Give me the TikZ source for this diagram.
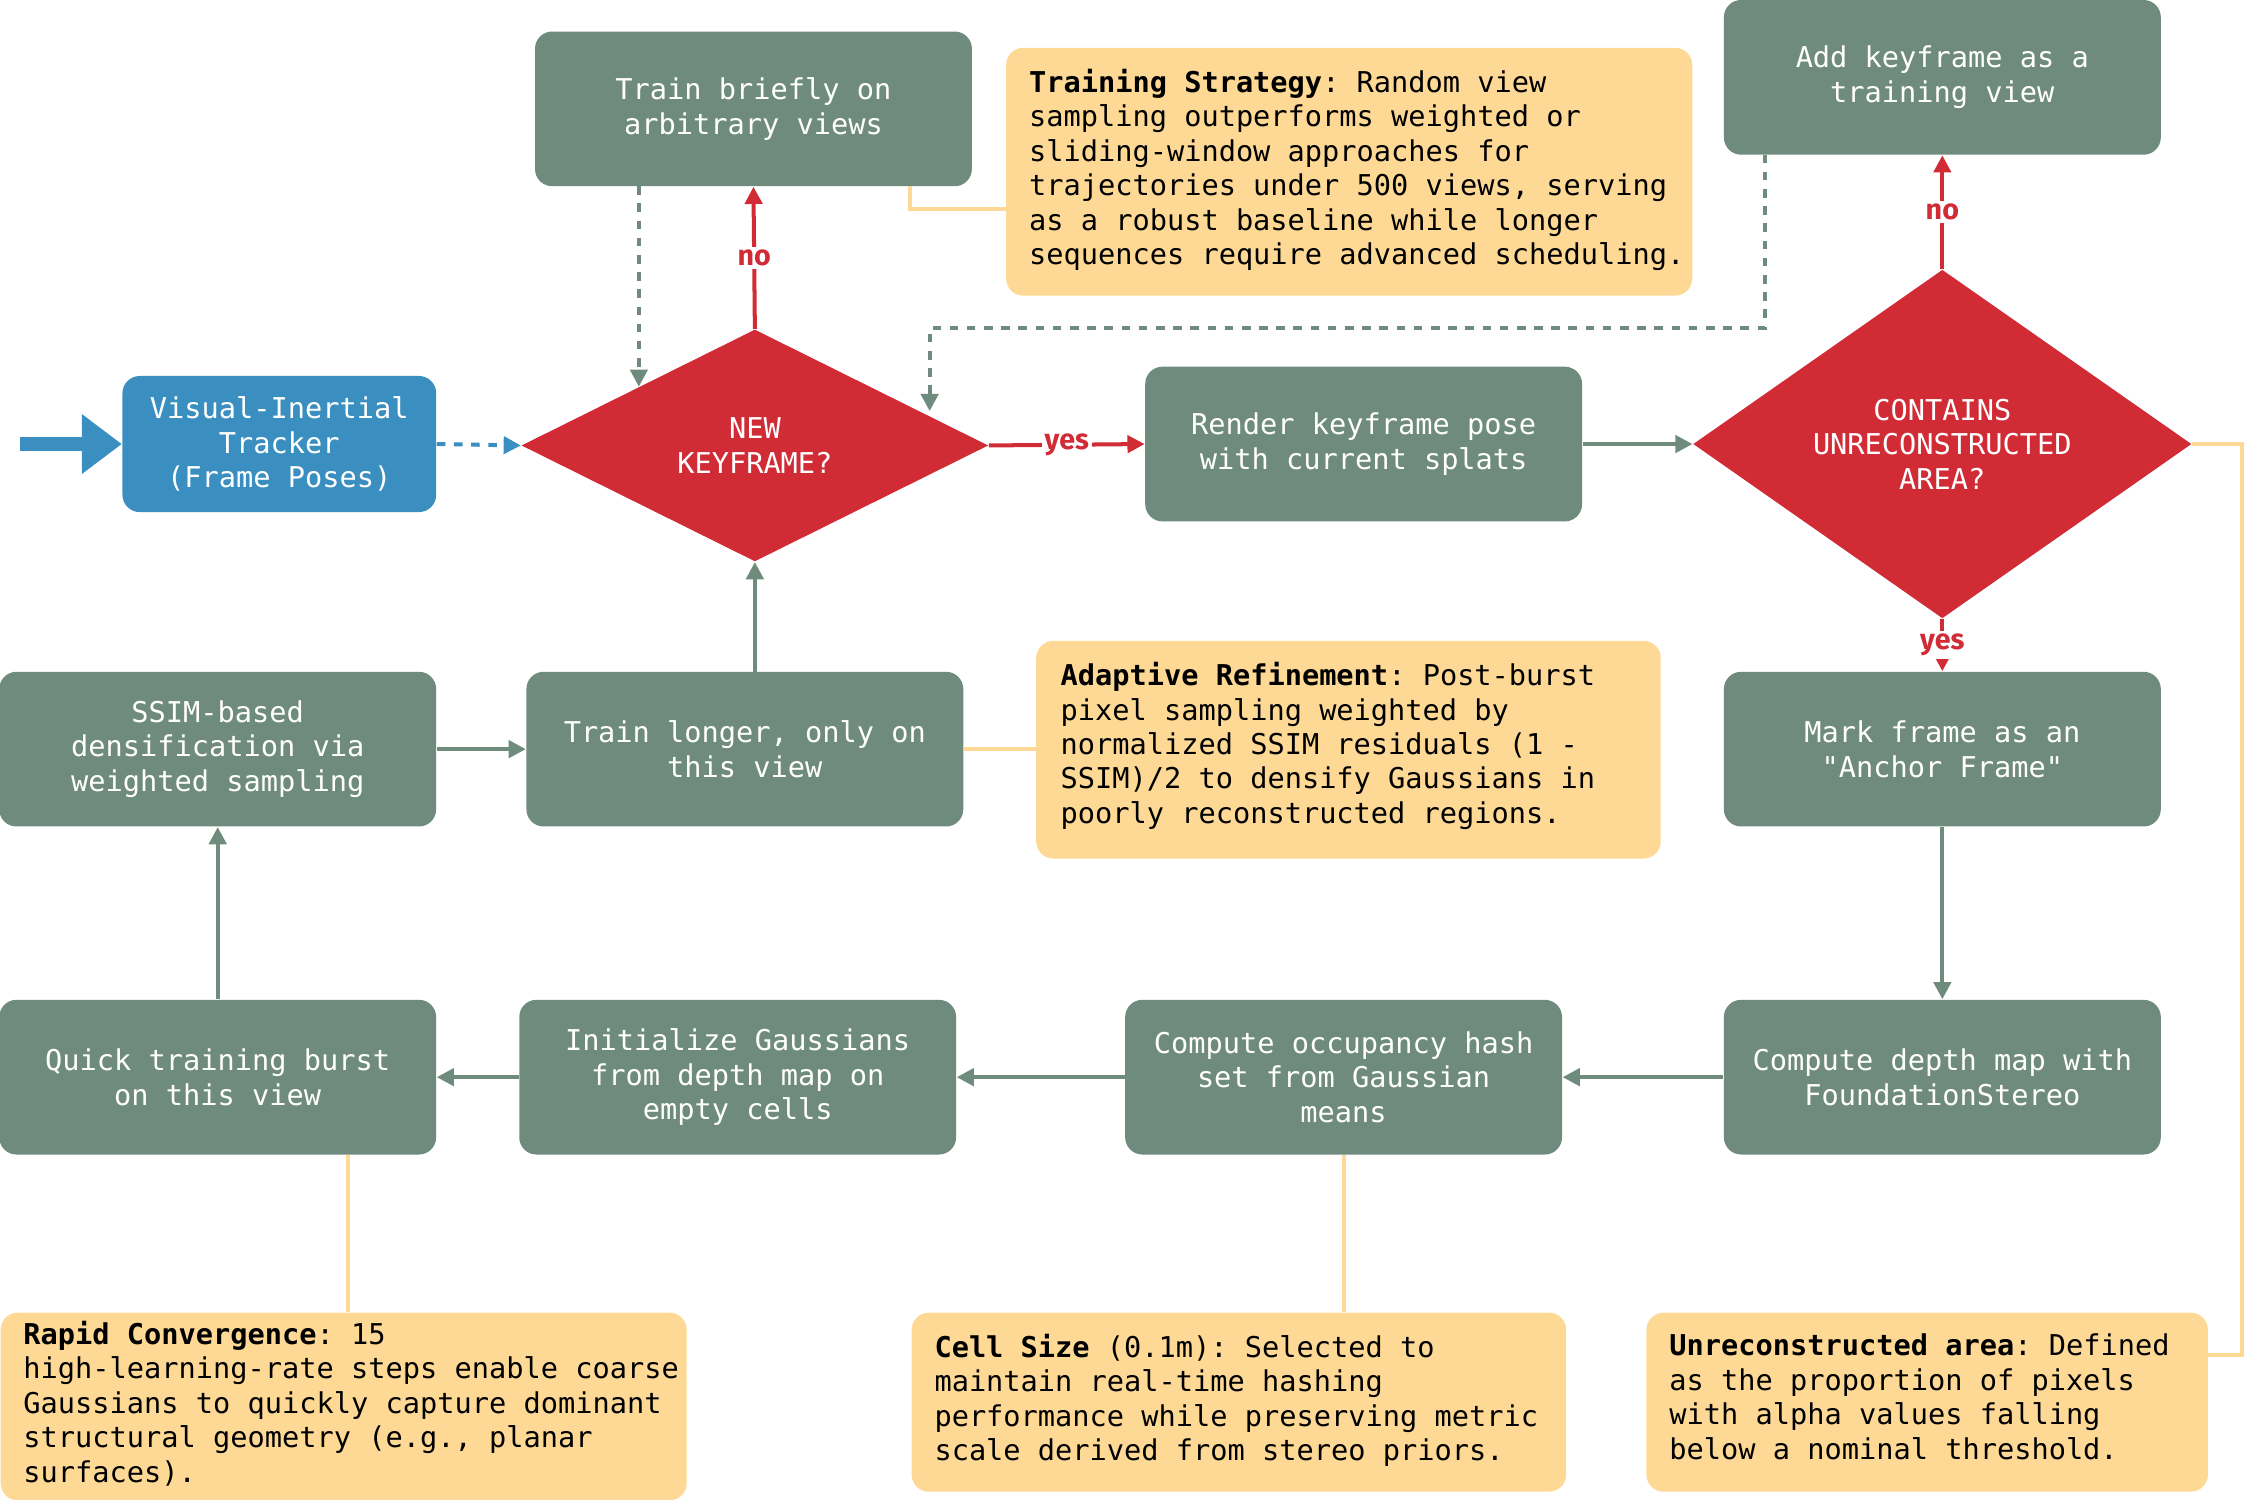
\documentclass[tikz,border=0pt]{standalone}
\usepackage{fontspec}
\setmainfont{Fira Sans}
\setmonofont{DejaVu Sans Mono}
\usetikzlibrary{shapes.geometric,arrows.meta}
\definecolor{stepgray}{HTML}{6E8B7D}
\definecolor{deciderd}{HTML}{D12B36}
\definecolor{trackblue}{HTML}{3A8FC0}
\definecolor{noteyel}{HTML}{FDD995}
\tikzset{
  stepbox/.style={rectangle,rounded corners=6pt,fill=stepgray,text=white,
    minimum width=152.5pt,minimum height=54pt,align=center,
    font=\ttfamily\fontsize{10}{12}\selectfont},
  decide/.style={diamond,fill=deciderd,text=white,inner sep=0pt,align=center,
    font=\ttfamily\fontsize{10}{12}\selectfont},
  note/.style={rectangle,rounded corners=6pt,fill=noteyel,
    anchor=north west,inner sep=0pt},
  notetext/.style={anchor=north west,align=left,inner sep=0pt,
    font=\ttfamily\fontsize{10}{12}\selectfont},
  flow/.style={-{Triangle[length=6pt,width=6pt]},line width=1.4pt,stepgray},
  redflow/.style={-{Triangle[length=6pt,width=6pt]},line width=1.4pt,deciderd},
  lbl/.style={fill=white,text=deciderd,font=\bfseries\fontsize{10}{12}\selectfont,inner sep=1pt},
  link/.style={line width=1.4pt,noteyel}
}
\begin{document}
\begin{tikzpicture}[x=0.5pt,y=-0.5pt]
  \useasboundingbox (0,0) rectangle (1568,1047);

  % main steps
  \node[stepbox,fill=trackblue,minimum width=109.5pt,minimum height=47.5pt] (track) at (195,310) {Visual-Inertial\\Tracker\\(Frame Poses)};
  \node[stepbox] (brief) at (526,76) {Train briefly on\\arbitrary views};
  \node[decide,minimum width=163pt,minimum height=81pt] (newkf) at (527,311) {NEW\\KEYFRAME?};
  \node[stepbox] (render) at (952,310) {Render keyframe pose\\with current splats};
  \node[decide,minimum width=174pt,minimum height=92pt] (unrec) at (1356,310) {CONTAINS\\UNRECONSTRUCTED\\AREA?};
  \node[stepbox] (addkf) at (1356,54) {Add keyframe as a\\training view};
  \node[stepbox] (mark) at (1356,523) {Mark frame as an\\"Anchor Frame"};
  \node[stepbox] (depth) at (1356,752) {Compute depth map with\\FoundationStereo};
  \node[stepbox] (occ) at (938,752) {Compute occupancy hash\\set from Gaussian\\means};
  \node[stepbox] (init) at (515,752) {Initialize Gaussians\\from depth map on\\empty cells};
  \node[stepbox] (quick) at (152,752) {Quick training burst\\on this view};
  \node[stepbox] (ssim) at (152,523) {SSIM-based\\densification via\\weighted sampling};
  \node[stepbox] (longer) at (520,523) {Train longer, only on\\this view};

  % notes
  \node[note,minimum width=239.5pt,minimum height=86.5pt] (nstrat) at (702,33) {};
  \node[notetext] at (718,48) {\textbf{Training Strategy}: Random view\\sampling outperforms weighted or\\sliding-window approaches for\\trajectories under 500 views, serving\\as a robust baseline while longer\\sequences require advanced scheduling.};
  \node[note,minimum width=218pt,minimum height=76pt] (nadapt) at (723,447) {};
  \node[notetext] at (740,462) {\textbf{Adaptive Refinement}: Post-burst\\pixel sampling weighted by\\normalized SSIM residuals (1 -\\SSIM)/2 to densify Gaussians in\\poorly reconstructed regions.};
  \node[note,minimum width=239.5pt,minimum height=65.5pt] (nrapid) at (0,916) {};
  \node[notetext] at (16,922) {\textbf{Rapid Convergence}: 15\\high-learning-rate steps enable coarse\\Gaussians to quickly capture dominant\\structural geometry (e.g., planar\\surfaces).};
  \node[note,minimum width=228.5pt,minimum height=62.5pt] (ncell) at (636,916) {};
  \node[notetext] at (652,931) {\textbf{Cell Size} (0.1m): Selected to\\maintain real-time hashing\\performance while preserving metric\\scale derived from stereo priors.};
  \node[note,minimum width=196pt,minimum height=62.5pt] (nunrec) at (1149,916) {};
  \node[notetext] at (1165,931) {\textbf{Unreconstructed area}: Defined\\as the proportion of pixels\\with alpha values falling\\below a nominal threshold.};

  % note links
  \draw[link] (635,130) -- (635,146) -- (702,146);
  \draw[link] (longer.east) -- (nadapt.west |- longer.east);
  \draw[link] (243,806) -- (243,916);
  \draw[link] (occ.south) -- (938,916);
  \draw[link] (unrec.east) -- (1565,310) -- (1565,946) -- (1541,946);

  % connectors
  \coordinate (start) at (14,310);
  \draw[-{Triangle[length=14pt,width=20pt]},line width=5pt,trackblue] (start) -- (track.west);
  \draw[-{Triangle[length=6pt,width=6pt]},line width=1.4pt,trackblue,dashed] (track.east) -- (newkf.west);
  \draw[redflow] (newkf.north) -- (brief.south) node[lbl,pos=0.5] {no};
  \draw[flow,dashed] (446,130) -- (446,270);
  \draw[flow,dashed] (1232,108) -- (1232,229) -- (649,229) -- (649,287);
  \draw[redflow] (newkf.east) -- (render.west) node[lbl,pos=0.5] {yes};
  \draw[flow] (render.east) -- (unrec.west);
  \draw[redflow] (unrec.north) -- (addkf.south) node[lbl,pos=0.5] {no};
  \draw[redflow] (unrec.south) -- (mark.north) node[lbl,pos=0.5] {yes};
  \draw[flow] (mark.south) -- (depth.north);
  \draw[flow] (depth.west) -- (occ.east);
  \draw[flow] (occ.west) -- (init.east);
  \draw[flow] (init.west) -- (quick.east);
  \draw[flow] (quick.north) -- (ssim.south);
  \draw[flow] (ssim.east) -- (longer.west);
  \draw[flow] (527,469) -- (newkf.south);
\end{tikzpicture}
\end{document}
